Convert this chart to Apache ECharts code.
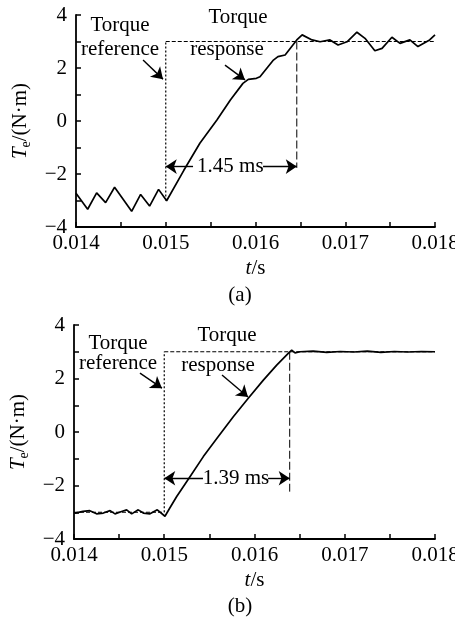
<!DOCTYPE html>
<html><head><meta charset="utf-8">
<script src="https://cdn.jsdelivr.net/npm/echarts@6/dist/echarts.min.js"></script>
<style>html,body{margin:0;padding:0;background:#fff}#c{width:455px;height:618px}</style>
</head><body><div id="c"></div>
<script>
// ---- tick labels ----
const xTickValues = [0.014, 0.015, 0.016, 0.017, 0.018];
const xTickLabels = ['0.014', '0.015', '0.016', '0.017', '0.018'];
const yTickValues = [-4, -2, 0, 2, 4];
const yTickLabels = ['\u22124', '\u22122', '0', '2', '4'];

// ---- (a) torque response ----
const respA_t = [0.01400,0.01413,0.01423,0.01433,0.01443,0.01462,0.01472,0.01482,0.01492,0.01501,
  0.01520,0.01538,0.01557,0.01572,0.01586,0.01592,0.01601,0.01605,0.01620,0.01625,0.01633,0.01646,0.01652,
  0.01663,0.01672,0.01683,0.01692,0.01702,0.01713,0.01722,0.01733,0.01741,0.01752,0.01761,0.01772,0.01781,0.01794,0.01800];
const respA_v = [-2.73,-3.33,-2.71,-3.08,-2.50,-3.41,-2.77,-3.21,-2.58,-3.01,
  -1.87,-0.84,0.04,0.79,1.42,1.57,1.61,1.67,2.30,2.43,2.49,3.06,3.25,
  3.06,2.99,3.06,2.87,2.99,3.35,3.12,2.65,2.74,3.16,2.93,3.06,2.81,3.06,3.25];
// ---- (a) torque reference ----
const refA_t = [0.015, 0.015, 0.018];
const refA_v = [-3, 3, 3];
const stepA_t = 0.015;      // reference step time
const endA_t = 0.01646;     // response reaches reference
const endA_low = -1.77;
const arrowA_v = -1.72;
const msA = '1.45 ms';

// ---- (b) torque response ----
const respB_t = [0.01401,0.01410,0.014175,0.01425,0.014325,0.01440,0.014454,0.014528,0.014583,0.014639,0.014712,0.014768,0.014842,0.014923,0.015008,
  0.01506,0.015138,0.015285,0.015433,0.015599,0.015765,0.015931,0.016098,0.016246,0.016374,0.016412,0.016449,0.016504,
  0.01665,0.01680,0.01695,0.01710,0.01725,0.01740,0.01755,0.01770,0.01785,0.01800];
const respB_v = [-3.03,-2.97,-2.94,-3.06,-3.03,-2.94,-3.06,-2.97,-2.91,-3.06,-2.91,-3.03,-3.06,-2.91,-3.15,
  -2.85,-2.41,-1.67,-0.92,-0.17,0.57,1.26,1.94,2.50,2.94,3.06,2.96,3.00,
  3.02,2.98,3.01,2.99,3.02,2.98,3.01,2.99,3.01,3.00];
const refB_t = [0.014, 0.015, 0.015, 0.018];
const refB_v = [-3, -3, 3, 3];
const stepB_t = 0.015;
const endB_t = 0.01639;
const endB_low = -2.23;
const arrowB_v = -1.73;
const msB = '1.39 ms';

// ---- annotation anchors (data coords) ----
const annA = {
  refText1: [0.01449, 3.62], refText2: [0.01449, 2.68], refArrow: [[0.014747, 2.30], [0.014969, 1.58]],
  resText1: [0.015805, 3.89], resText2: [0.015682, 2.68], resArrow: [[0.01566, 2.11], [0.015883, 1.55]],
  msCenter: 0.01572, msLeftFrom: 0.015304, msRightFrom: 0.016084
};
const annB = {
  refText1: [0.014488, 3.32], refText2: [0.014488, 2.57], refArrow: [[0.014731, 2.20], [0.014975, 1.64]],
  resText1: [0.015695, 3.62], resText2: [0.015596, 2.50], resArrow: [[0.01564, 2.13], [0.015928, 1.31]],
  msCenter: 0.015795, msLeftFrom: 0.015429, msRightFrom: 0.01615
};

const FONT = "'Liberation Serif','Times New Roman',serif";
const FS = 21;
const zip = (a, b) => a.map((v, i) => [v, b[i]]);

function xFmt(v) {
  const i = xTickValues.findIndex(t => Math.abs(t - v) < 1e-9);
  return i >= 0 ? xTickLabels[i] : '';
}
function yFmt(v) {
  const i = yTickValues.findIndex(t => Math.abs(t - v) < 1e-9);
  return i >= 0 ? yTickLabels[i] : '';
}
const axisLineStyle = { color: '#000', width: 1.8 };
function xAxis(gi) {
  return {
    type: 'value', gridIndex: gi, min: 0.014, max: 0.018, interval: 0.0005,
    axisLine: { show: true, onZero: false, lineStyle: axisLineStyle },
    axisTick: { show: true, inside: true, length: 5, lineStyle: { color: '#000', width: 1.5 } },
    splitLine: { show: false },
    axisLabel: { formatter: xFmt, color: '#000', fontFamily: FONT, fontSize: FS, margin: 6, showMinLabel: true, showMaxLabel: true, hideOverlap: false },
    name: '{i|t}/s', nameLocation: 'middle', nameGap: 31,
    nameTextStyle: { color: '#000', fontFamily: FONT, fontSize: FS, rich: { i: { fontStyle: 'italic', fontFamily: FONT, fontSize: FS, color: '#000' } } }
  };
}
function yAxis(gi) {
  return {
    type: 'value', gridIndex: gi, min: -4, max: 4, interval: 1,
    axisLine: { show: true, onZero: false, lineStyle: axisLineStyle },
    axisTick: { show: true, inside: true, length: 5, lineStyle: { color: '#000', width: 1.5 } },
    splitLine: { show: false },
    axisLabel: { formatter: yFmt, color: '#000', fontFamily: FONT, fontSize: FS, margin: 9 },
    name: '{i|T}{s|e}/(N\u00b7m)', nameLocation: 'middle', nameGap: 43, nameRotate: 90,
    nameTextStyle: { color: '#000', fontFamily: FONT, fontSize: FS,
      rich: { i: { fontStyle: 'italic', fontFamily: FONT, fontSize: FS, color: '#000', lineHeight: 25 },
              s: { fontStyle: 'normal', fontFamily: FONT, fontSize: 14, color: '#000', verticalAlign: 'bottom', lineHeight: 25 } } }
  };
}
function lineSeries(gi, data, style, z) {
  return { type: 'line', xAxisIndex: gi, yAxisIndex: gi, data: data, symbol: 'none', silent: true,
    animation: false, lineStyle: style, z: z || 2 };
}
function arrowSeries(gi, ann, arrowV, stepT, endT) {
  const seg = (p, q) => [{ coord: p }, { coord: q }];
  return {
    type: 'line', xAxisIndex: gi, yAxisIndex: gi, data: [[0.014, -5]], symbol: 'none', silent: true, animation: false,
    lineStyle: { opacity: 0 },
    markLine: {
      silent: true, animation: false, symbol: ['none', 'arrow'], symbolSize: 11, precision: 6,
      label: { show: false }, emphasis: { disabled: true },
      lineStyle: { color: '#000', width: 1.4, type: 'solid' },
      itemStyle: { color: '#000' },
      data: [
        seg(ann.refArrow[0], ann.refArrow[1]),
        seg(ann.resArrow[0], ann.resArrow[1]),
        seg([ann.msLeftFrom, arrowV], [stepT, arrowV]),
        seg([ann.msRightFrom, arrowV], [endT, arrowV])
      ]
    }
  };
}

function buildSeries(gi, respT, respV, refT, refV, stepT, endT, endLow, ann, arrowV) {
  const out = [];
  const refPts = zip(refT, refV);
  for (let i = 0; i < refPts.length - 1; i++) {
    const p = refPts[i], q = refPts[i + 1];
    const vertical = Math.abs(p[0] - q[0]) < 1e-12;
    out.push(lineSeries(gi, [p, q], { color: '#000', width: 1.2, type: vertical ? [2, 2] : [4, 2] }, 1));
  }
  out.push(lineSeries(gi, [[endT, 3], [endT, endLow]], { color: '#000', width: 1, type: [8, 3] }, 1));
  out.push(lineSeries(gi, zip(respT, respV), { color: '#000', width: 1.7, type: 'solid' }, 3));
  out.push(arrowSeries(gi, ann, arrowV, stepT, endT));
  return out;
}

const chart = echarts.init(document.getElementById('c'), null, { renderer: 'canvas' });
chart.setOption({
  backgroundColor: '#fff',
  animation: false,
  grid: [
    { left: 76, top: 15, width: 359, height: 212, outerBoundsMode: 'none' },
    { left: 74, top: 325, width: 361, height: 214, outerBoundsMode: 'none' }
  ],
  xAxis: [xAxis(0), xAxis(1)],
  yAxis: [yAxis(0), yAxis(1)],
  series: [].concat(
    buildSeries(0, respA_t, respA_v, refA_t, refA_v, stepA_t, endA_t, endA_low, annA, arrowA_v),
    buildSeries(1, respB_t, respB_v, refB_t, refB_v, stepB_t, endB_t, endB_low, annB, arrowB_v)
  )
});

function txt(gi, coord, s) {
  const p = chart.convertToPixel({ gridIndex: gi }, coord);
  return { type: 'text', x: p[0], y: p[1], silent: true,
    style: { text: s, fill: '#000', font: FS + "px " + FONT, align: 'center', verticalAlign: 'middle' } };
}
const graphics = [];
[[0, annA, arrowA_v, msA], [1, annB, arrowB_v, msB]].forEach(([gi, ann, av, ms]) => {
  graphics.push(txt(gi, ann.refText1, 'Torque'));
  graphics.push(txt(gi, ann.refText2, 'reference'));
  graphics.push(txt(gi, ann.resText1, 'Torque'));
  graphics.push(txt(gi, ann.resText2, 'response'));
  graphics.push(txt(gi, [ann.msCenter, av], ms));
});
graphics.push({ type: 'text', x: 240, y: 295, silent: true, style: { text: '(a)', fill: '#000', font: FS + 'px ' + FONT, align: 'center', verticalAlign: 'middle' } });
graphics.push({ type: 'text', x: 240, y: 606, silent: true, style: { text: '(b)', fill: '#000', font: FS + 'px ' + FONT, align: 'center', verticalAlign: 'middle' } });
chart.setOption({ graphic: graphics });
</script>
</body></html>
